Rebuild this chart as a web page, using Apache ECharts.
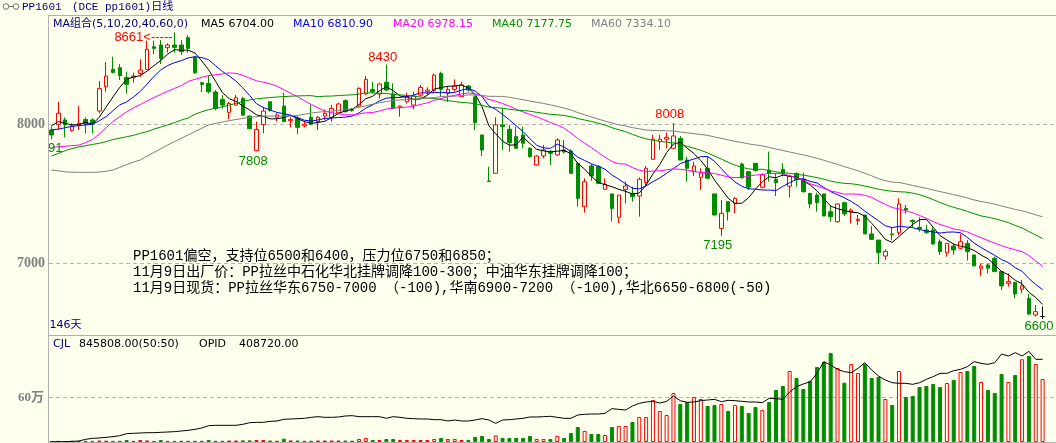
<!DOCTYPE html>
<html>
<head>
<meta charset="utf-8">
<script src="https://cdn.jsdelivr.net/npm/echarts@6/dist/echarts.min.js"></script>
<style>
html,body{margin:0;padding:0;background:#FFFFEE;}
#chart{width:1056px;height:443px;}
</style>
</head>
<body>
<div id="chart"></div>
<script>
// ---------------- data ----------------
const opens = [7959,7999,8031,7954,7995,8035,8031,8095,8270,8395,
 8407,8337,8335,8366,8395,8558,8570,8551,8570,8570,
 8623,8481,8299,8294,8232,8179,8086,8138,8186,8059,
 7810,7999,8162,8050,8131,8026,8042,7988,8050,8019,
 8059,8050,8083,8170,8105,8131,8218,8251,8218,8302,
 8218,8122,8162,8138,8210,8234,8242,8366,8222,8251,
 8198,8275,8198,7923,7592,7647,7995,7964,7911,7923,
 7827,7707,7772,7803,7779,7815,7808,7719,7407,7700,
 7695,7532,7499,7331,7532,7503,7484,7580,7748,7875,
 7892,7827,7899,7743,7659,7618,7683,7499,7251,7443,
 7431,7714,7659,7719,7547,7671,7604,7676,7555,7647,
 7604,7503,7491,7499,7371,7299,7436,7371,7307,7347,
 7211,7167,7052,7211,7220,7395,7307,7259,7239,7239,
 7155,7076,7124,7108,7143,7060,6964,6988,7036,6940,
 6856,6861,6813,6748,6628,6617];
const closes = [7923,8079,7995,7987,8007,8002,8002,8258,8347,8373,
 8349,8287,8347,8390,8539,8546,8474,8570,8553,8522,
 8546,8371,8287,8234,8112,8138,8150,8191,8066,7968,
 7963,8095,8102,8067,8019,8035,7978,8000,8000,8050,
 8079,8114,8146,8091,8100,8258,8323,8234,8290,8246,
 8114,8131,8198,8203,8265,8246,8354,8251,8251,8275,
 8282,8246,8012,7815,7588,7995,7983,7868,7827,7863,
 7767,7772,7815,7791,7887,7800,7647,7467,7587,7628,
 7575,7570,7395,7491,7556,7479,7604,7683,7892,7892,
 7906,7916,7743,7683,7700,7652,7611,7347,7359,7371,
 7467,7614,7547,7667,7635,7647,7580,7645,7625,7604,
 7515,7427,7436,7340,7335,7427,7355,7383,7316,7211,
 7172,7076,7084,7206,7427,7383,7300,7250,7222,7139,
 7084,7143,7096,7155,7084,6981,6979,6965,6940,6837,
 6868,6779,6837,6635,6652,6617];
const lows = [7891,7959,7906,7947,7959,7935,7935,8079,8234,8366,
 8318,8222,8299,8342,8390,8505,8433,8515,8515,8498,
 8515,8361,8230,8222,8102,8114,8035,8131,8059,7965,
 7808,7935,8090,8019,8015,7978,7930,7978,7995,7959,
 8031,8019,8079,8083,8090,8127,8210,8222,8186,8240,
 8114,8055,8150,8107,8198,8210,8222,8198,8162,8234,
 8198,8234,7959,7772,7585,7645,7815,7803,7827,7827,
 7760,7700,7755,7707,7772,7790,7647,7407,7364,7594,
 7575,7527,7300,7288,7431,7443,7335,7551,7743,7815,
 7827,7827,7743,7587,7628,7527,7611,7347,7195,7307,
 7359,7611,7527,7660,7539,7587,7484,7625,7475,7551,
 7508,7395,7371,7340,7299,7292,7340,7287,7275,7211,
 7167,6995,7024,7167,7203,7355,7259,7227,7211,7131,
 7060,7048,7060,7100,7019,6981,6909,6928,6940,6808,
 6832,6748,6784,6628,6616,6600];
const highs = [7983,8162,8050,8007,8131,8050,8043,8311,8448,8486,
 8433,8378,8371,8467,8601,8601,8606,8582,8661,8606,
 8640,8491,8306,8347,8246,8210,8162,8210,8198,8062,
 8019,8126,8165,8079,8227,8050,8059,8019,8139,8059,
 8107,8139,8155,8179,8115,8266,8347,8306,8299,8430,
 8294,8135,8227,8234,8282,8266,8366,8378,8275,8323,
 8306,8282,8198,7923,7695,8050,8114,7995,7983,7983,
 7835,7779,7851,7815,7899,7887,7820,7719,7611,7714,
 7707,7611,7499,7491,7587,7551,7618,7700,7923,7923,
 7940,8008,7916,7767,7731,7683,7767,7499,7455,7443,
 7475,7724,7659,7719,7647,7803,7647,7720,7635,7652,
 7652,7503,7508,7499,7419,7427,7443,7395,7347,7347,
 7268,7167,7100,7259,7467,7419,7316,7331,7275,7259,
 7172,7143,7143,7211,7167,7060,6999,6999,7048,6940,
 6928,6868,6880,6779,6700,6688];
// volume (CJL), in 万
const volumes = [1.2,1.5,1.3,1.5,1.3,1.6,1.5,2.0,1.8,1.5,
 1.6,2.7,1.5,2.7,2.2,1.5,2.7,1.5,1.5,1.6,
 1.6,1.6,1.6,2.7,1.6,1.6,2.0,2.0,2.2,2.2,
 2.7,2.7,2.0,1.6,4.4,2.2,2.0,1.6,1.6,2.0,
 2.0,2.0,2.0,2.0,1.8,4.0,5.4,2.7,2.7,4.0,
 4.0,2.7,2.7,2.7,2.7,2.7,4.0,5.4,4.0,4.0,
 2.7,2.7,6.7,8.1,4.0,8.9,5.4,5.4,5.4,5.4,
 8.1,4.0,4.0,4.0,8.1,5.4,12.1,20.1,14.8,10.7,
 10.7,9.4,20.1,21.5,21.5,26.8,33.6,33.6,56.4,41.6,
 36.2,65.8,51.0,53.7,60.4,57.7,48.3,49.7,51.0,41.6,
 49.7,48.3,38.9,47.0,43.0,53.7,69.8,75.2,95.3,85.9,
 71.1,81.9,100.7,107.4,119.5,99.3,79.6,104.7,92.6,105.1,
 85.9,87.2,57.7,49.7,95.3,60.4,61.7,73.8,75.2,77.9,
 73.8,79.2,83.2,94.0,95.3,102.0,80.5,69.8,65.8,91.3,
 80.5,89.9,111.0,115.4,104.7,84.5808];
// open interest (OPID), in 万
const openInterest = [0.16,0.16,0.16,0.33,0.49,1.32,1.81,1.98,2.31,2.64,
 3.13,4.12,4.28,4.45,4.61,4.61,4.78,4.94,5.11,5.44,
 5.77,6.26,6.92,8.07,8.24,8.24,8.24,8.24,8.73,9.55,
 9.72,9.72,10.21,10.38,11.20,11.37,11.53,11.70,12.19,12.52,
 12.19,12.19,12.36,12.85,13.01,12.52,12.52,12.52,12.52,11.70,
 12.52,12.19,11.70,11.53,11.37,11.37,11.04,11.04,10.38,10.87,
 10.38,10.38,10.87,11.53,10.87,9.22,10.87,11.04,11.37,11.70,
 12.36,12.36,12.52,12.69,12.19,11.70,11.70,13.34,13.67,13.84,
 13.84,14.17,16.47,16.14,15.81,17.79,19.11,19.77,20.10,19.27,
 20.10,22.73,20.43,19.60,19.77,20.43,20.76,21.09,19.93,20.59,
 20.43,20.10,19.77,19.77,19.44,21.58,21.41,21.09,24.71,27.35,
 28.66,29.82,33.93,39.70,38.05,35.91,34.76,34.26,36.41,39.21,
 35.58,32.62,30.64,29.32,28.99,28.99,28.50,29.32,30.97,32.29,
 33.93,33.93,35.25,35.91,37.23,39.70,38.88,38.38,39.21,43.49,
 42.50,44.15,42.50,44.81,40.87,40.872];
const ma5Head = [7988,8019,8007,7995];
const ma10Head = [7959,7965,7975,7985,7990,7995,8000,8025,8055];
const ma20Head = [7834,7838,7842,7846,7850,7868,7890,7930,7975,8020,8055,8090,8118,8142,8168,8192,8215,8238,8258];
const ma40Head = [7772,7790,7810,7825,7837,7845,7855,7863,7875,7890,
 7900,7910,7920,7935,7947,7965,7980,7995,8012,8030,
 8045,8072,8090,8105,8115,8125,8138,8150,8165,8175,
 8183,8188,8192,8196,8199,8202,8204,8205,8206];
const ma60Head = [7671,7665,7658,7655,7654,7654,7654,7656,7662,7671,
 7690,7710,7728,7743,7770,7797,7824,7851,7875,7899,
 7923,7947,7971,7995,8006,8016,8026,8034,8042,8050,
 8055,8059,8059,8059,8059,8059,8064,8072,8080,8087,
 8091,8095,8099,8103,8113,8122,8133,8144,8155,8163,
 8170,8175,8178,8181,8184,8187,8192,8198,8203];
const maPeriods = [5, 10, 20, 40, 60];
const priceTicks = [7000, 8000];
const volumeTicks = [60];
const markedHighs = [18, 49, 91];
const markedLows = [0, 30, 98, 145];
const titleCode = 'PP1601';
const titleDesc = '(DCE pp1601)日线';
const dayCountLabel = '146天';
const noteLines = [
  'PP1601偏空，支持位6500和6400，压力位6750和6850；',
  '11月9日出厂价：PP拉丝中石化华北挂牌调降100-300；中油华东挂牌调降100；',
  '11月9日现货：PP拉丝华东6750-7000 （-100),华南6900-7200 （-100),华北6650-6800(-50)'
];

// ---------------- build ----------------
const BG = '#FFFFEE', RED = '#FF0000', GREEN = '#008C00', FRAME = '#B0B0B0', NAVY = '#000080';
const maColors = ['#000000', '#0000FF', '#FF00FF', '#009000', '#808080'];
const heads = {5: ma5Head, 10: ma10Head, 20: ma20Head, 40: ma40Head, 60: ma60Head};
const n = closes.length;
const days = closes.map((_, i) => 'D' + (i + 1));

function movingAverage(p) {
  return closes.map((c, i) => {
    if (i < p - 1) return heads[p][i];
    let s = 0;
    for (let k = i - p + 1; k <= i; k++) s += closes[k];
    return s / p;
  });
}
const maSeries = maPeriods.map(p => movingAverage(p));

const candleData = closes.map((c, i) => {
  const item = { value: [opens[i], c, lows[i], highs[i]] };
  if (c === opens[i]) item.itemStyle = { color: '#000', color0: '#000', borderColor: '#000', borderColor0: '#000', borderColorDoji: '#000' };
  return item;
});
const volData = volumes.map((v, i) => ({
  value: v,
  itemStyle: closes[i] >= opens[i]
    ? { color: BG, borderColor: RED, borderWidth: 1 }
    : { color: GREEN, borderColor: GREEN, borderWidth: 1 }
}));

const labelFont = { fontFamily: 'Liberation Sans', fontSize: 13 };
const markOffsets = {18: [-31, 4.6], 49: [-3.7, -7.5], 91: [-3.7, -9.2], 0: [-3.5, 9], 30: [-3.3, 10], 98: [-3.5, 9], 145: [-3.5, 7.6]};
const markData = [];
markedHighs.forEach(i => markData.push({
  coord: [days[i], highs[i]], value: highs[i],
  label: { show: true, position: 'inside', offset: markOffsets[i], color: RED, ...labelFont,
    formatter: i === 18 ? '{c}<-----' : '{c}' }
}));
markedLows.forEach(i => markData.push({
  coord: [days[i], lows[i]], value: lows[i],
  label: { show: true, position: 'inside', offset: markOffsets[i], color: GREEN, ...labelFont, formatter: '{c}' }
}));

const series = [{
  type: 'candlestick', name: 'K', xAxisIndex: 0, yAxisIndex: 0, data: candleData,
  barWidth: 4, z: 2,
  itemStyle: { color: BG, color0: GREEN, borderColor: RED, borderColor0: GREEN, borderWidth: 1 },
  markPoint: { symbol: 'circle', symbolSize: 1, itemStyle: { color: 'rgba(0,0,0,0)' }, data: markData, animation: false, silent: true }
}];
maPeriods.forEach((p, k) => series.push({
  type: 'line', name: 'MA' + p, xAxisIndex: 0, yAxisIndex: 0, data: maSeries[k],
  showSymbol: false, symbol: 'none', z: 3, silent: true,
  lineStyle: { width: 1, color: maColors[k] }
}));
series.push({ type: 'bar', name: 'CJL', xAxisIndex: 1, yAxisIndex: 1, data: volData, barWidth: 4, z: 2, silent: true });
series.push({ type: 'line', name: 'OPID', xAxisIndex: 1, yAxisIndex: 2, data: openInterest, showSymbol: false, symbol: 'none', z: 3, silent: true, lineStyle: { width: 1, color: '#000' } });

const chart = echarts.init(document.getElementById('chart'), null, { renderer: 'canvas', width: 1056, height: 443 });
chart.setOption({
  animation: false,
  backgroundColor: BG,
  grid: [
    { left: 48, right: 10, top: 15, height: 320 },
    { left: 48, right: 10, top: 335, height: 107 }
  ],
  xAxis: [
    { type: 'category', gridIndex: 0, data: days, show: false, boundaryGap: true },
    { type: 'category', gridIndex: 1, data: days, show: false, boundaryGap: true }
  ],
  yAxis: [
    { type: 'value', gridIndex: 0, min: 6484, max: 8786, show: false, splitLine: { show: false } },
    { type: 'value', gridIndex: 1, min: 0, max: 143.6, show: false, splitLine: { show: false } },
    { type: 'value', gridIndex: 1, min: 0, max: 52.88, show: false, splitLine: { show: false } }
  ],
  series
});

// ---------------- decorations (frame, grid lines, texts) ----------------
const g = [];
const ln = (x1, y1, x2, y2, stroke, dash, z) => ({ type: 'line', silent: true, z: z || 60,
  shape: { x1, y1, x2, y2 }, style: { stroke, lineWidth: 1, lineDash: dash || null } });
const tx = (x, y, text, fill, font, align, z) => ({ type: 'text', silent: true, z: z || 61, x, y,
  style: { text, fill, font, textAlign: align || 'left', textVerticalAlign: 'middle' } });

// cover for the left label column (clips labels running past the axis)
g.push({ type: 'rect', silent: true, z: 55, shape: { x: 0, y: 16, width: 48, height: 319 }, style: { fill: BG } });
// frame
g.push(ln(48, 15.5, 1056, 15.5, FRAME));
g.push(ln(48.5, 15.5, 48.5, 443, FRAME));
g.push(ln(48, 335.5, 1056, 335.5, FRAME));
g.push(ln(48, 442.5, 1056, 442.5, FRAME));

const axisFont = "bold 14px 'Liberation Serif', 'Noto Sans CJK SC'";
priceTicks.forEach(v => {
  const y = Math.floor(chart.convertToPixel({ yAxisIndex: 0 }, v)) + 0.5;
  g.push(ln(49, y, 1056, y, '#B4B4B4', [4, 3], 1));
  g.push(tx(45, y, String(v), '#808080', axisFont, 'right'));
});
volumeTicks.forEach(v => {
  const y = Math.floor(chart.convertToPixel({ yAxisIndex: 1 }, v)) + 0.5;
  g.push(ln(49, y, 1056, y, '#B4B4B4', [4, 3], 1));
  g.push(tx(44, y, v + '万', '#808080', "bold 13px 'Liberation Serif', 'Noto Sans CJK SC'", 'right'));
});

// header icon + title
g.push({ type: 'circle', silent: true, z: 61, shape: { cx: 6, cy: 6.5, r: 2.8 }, style: { fill: 'none', stroke: '#707070', lineWidth: 1 } });
g.push({ type: 'circle', silent: true, z: 61, shape: { cx: 16, cy: 6.5, r: 2.8 }, style: { fill: 'none', stroke: '#707070', lineWidth: 1 } });
g.push(ln(8.8, 6.5, 13.2, 6.5, '#707070'));
const titleFont = "11px 'Liberation Mono', 'Noto Sans CJK SC'";
g.push(tx(22, 7, titleCode, NAVY, titleFont));
g.push(tx(72, 7, titleDesc, NAVY, titleFont));

// MA legend row
const legFont = "11px 'DejaVu Sans', 'Noto Sans CJK SC'";
const last = n - 1;
g.push(tx(53, 24, 'MA组合(' + maPeriods.join(',') + ',0)', NAVY, legFont));
const legX = [201, 293, 393, 492, 591];
maPeriods.forEach((p, k) => g.push(tx(legX[k], 24, 'MA' + p + ' ' + maSeries[k][last].toFixed(2), maColors[k], legFont)));

// day count
g.push(tx(49.5, 325, dayCountLabel, NAVY, legFont));

// volume panel header
g.push(tx(53, 344, 'CJL', NAVY, legFont));
g.push(tx(79, 344, (volumes[last] * 10000).toFixed(2) + '(50:50)', '#000', legFont));
g.push(tx(199, 344, 'OPID', '#000', legFont));
g.push(tx(239, 344, (openInterest[last] * 10000).toFixed(2), '#000', legFont));

// note text
const noteFont = "14px 'Liberation Mono', 'Noto Sans CJK SC'";
const noteY = [256.5, 272.5, 288];
noteLines.forEach((t, k) => g.push(tx(133, noteY[k], t, '#000', noteFont)));

chart.setOption({ graphic: { elements: g } });
</script>
</body>
</html>
